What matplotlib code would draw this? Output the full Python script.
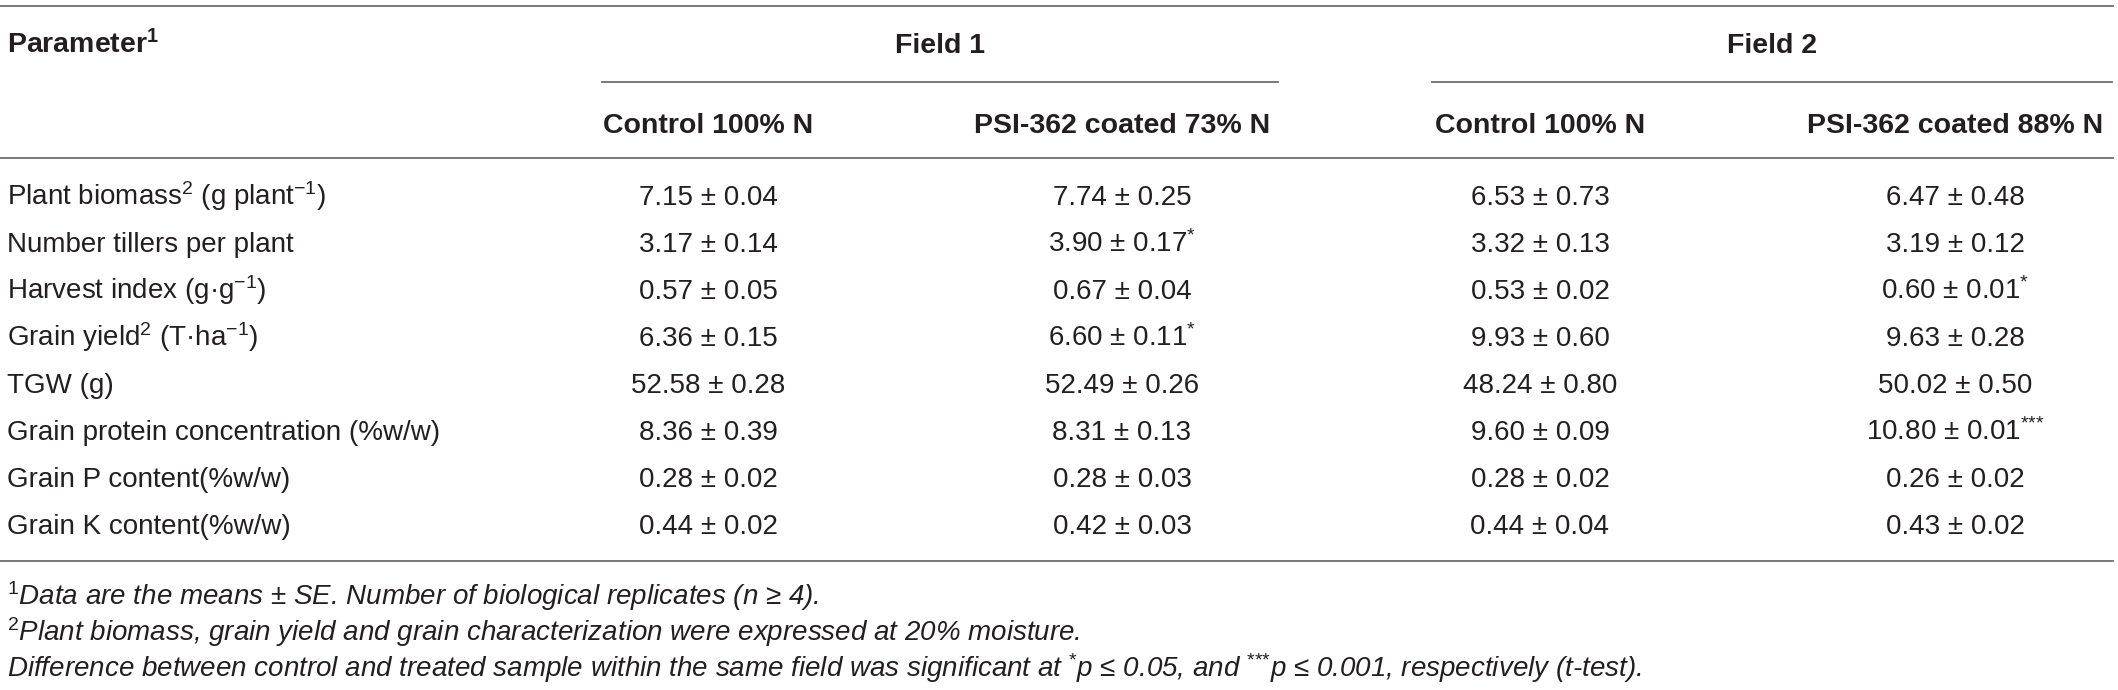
import matplotlib.pyplot as plt

plt.rcParams['font.family'] = ['Liberation Sans', 'DejaVu Sans']
plt.rcParams['mathtext.fontset'] = 'custom'
plt.rcParams['mathtext.rm'] = 'Liberation Sans'
plt.rcParams['mathtext.it'] = 'Liberation Sans:italic'
plt.rcParams['mathtext.bf'] = 'Liberation Sans:bold'

# table content
parameters = [
    r"Plant biomass$^{2}$ (g plant$^{-1}$)",
    "Number tillers per plant",
    r"Harvest index (g·g$^{-1}$)",
    r"Grain yield$^{2}$ (T·ha$^{-1}$)",
    "TGW (g)",
    "Grain protein concentration (%w/w)",
    "Grain P content(%w/w)",
    "Grain K content(%w/w)",
]
fields = ["Field 1", "Field 2"]
treatments = ["Control 100% N", "PSI-362 coated 73% N", "Control 100% N", "PSI-362 coated 88% N"]

f1_control_mean = [7.15, 3.17, 0.57, 6.36, 52.58, 8.36, 0.28, 0.44]
f1_control_se = [0.04, 0.14, 0.05, 0.15, 0.28, 0.39, 0.02, 0.02]
f1_coated_mean = [7.74, 3.90, 0.67, 6.60, 52.49, 8.31, 0.28, 0.42]
f1_coated_se = [0.25, 0.17, 0.04, 0.11, 0.26, 0.13, 0.03, 0.03]
f2_control_mean = [6.53, 3.32, 0.53, 9.93, 48.24, 9.60, 0.28, 0.44]
f2_control_se = [0.73, 0.13, 0.02, 0.60, 0.80, 0.09, 0.02, 0.04]
f2_coated_mean = [6.47, 3.19, 0.60, 9.63, 50.02, 10.80, 0.26, 0.43]
f2_coated_se = [0.48, 0.12, 0.01, 0.28, 0.50, 0.01, 0.02, 0.02]
f1_coated_sig = ["", "*", "", "*", "", "", "", ""]
f2_coated_sig = ["", "", "*", "", "", "***", "", ""]

footnotes = [
    r"$^{1}$Data are the means ± SE. Number of biological replicates (n ≥ 4).",
    r"$^{2}$Plant biomass, grain yield and grain characterization were expressed at 20% moisture.",
    r"Difference between control and treated sample within the same field was significant at $^{{*}}$p ≤ 0.05, "
    r"and $^{{*}{*}{*}}$p ≤ 0.001, respectively (t-test).",
]

columns = [
    (f1_control_mean, f1_control_se, [""] * 8),
    (f1_coated_mean, f1_coated_se, f1_coated_sig),
    (f2_control_mean, f2_control_se, [""] * 8),
    (f2_coated_mean, f2_coated_se, f2_coated_sig),
]

W, H = 2118, 690
fig = plt.figure(figsize=(W / 100, H / 100), dpi=100)
ax = fig.add_axes([0, 0, 1, 1])
ax.set_xlim(0, W)
ax.set_ylim(H, 0)
ax.axis('off')

txt = '#231f20'
line_col = '#6d6d6d'
body = 20
head = 20.5

col_x = [708, 1122, 1540, 1955]
field_span = [(602, 1278), (1432, 2112)]
row_y0, row_step = 205, 47

# rules
ax.plot([0, 2113], [6, 6], color=line_col, lw=1.3)
for x0, x1 in field_span:
    ax.plot([x0, x1], [82, 82], color=line_col, lw=1.3)
ax.plot([0, 2113], [158, 158], color=line_col, lw=1.3)
ax.plot([0, 2113], [561, 561], color=line_col, lw=1.3)

# header
ax.text(7, 53, r"Parameter$^{\mathbf{1}}$", fontsize=head, fontweight='bold', color=txt, va='baseline', ha='left')
for name, (x0, x1) in zip(fields, field_span):
    ax.text((x0 + x1) / 2, 53, name, fontsize=head, fontweight='bold', color=txt, va='baseline', ha='center')
for x, name in zip(col_x, treatments):
    ax.text(x, 133, name, fontsize=head, fontweight='bold', color=txt, va='baseline', ha='center')

# body rows
for i, p in enumerate(parameters):
    y = row_y0 + i * row_step
    ax.text(7, y, p, fontsize=body, color=txt, va='baseline', ha='left')
    for x, (means, ses, sig) in zip(col_x, columns):
        s = f"{means[i]:.2f} ± {ses[i]:.2f}"
        if sig[i]:
            s += "$^{" + "".join("{*}" for _ in sig[i]) + "}$"
        ax.text(x, y, s, fontsize=body, color=txt, va='baseline', ha='center')

# footnotes
for j, f in enumerate(footnotes):
    ax.text(7, 605 + j * 36, f, fontsize=20, style='italic', color=txt, va='baseline', ha='left')

fig.savefig('out.png', dpi=100)
